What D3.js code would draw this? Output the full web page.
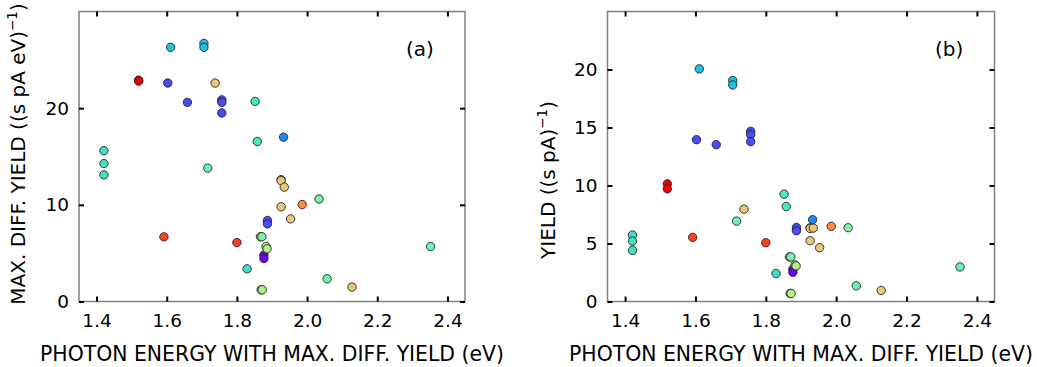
<!DOCTYPE html>
<html><head><meta charset="utf-8">
<script src="https://cdn.jsdelivr.net/npm/d3@7"></script>
<style>body{margin:0;background:#fff}svg{font-family:"DejaVu Sans",sans-serif}</style>
</head><body><svg id="c" width="1037" height="367"></svg>
<script>
// photon energy with max diff yield (eV)
const energy = [1.421,1.421,1.421,1.520,1.520,1.592,1.603,1.611,1.659,1.706,1.706,1.717,1.738,1.757,1.757,1.757,1.800,1.829,1.852,1.858,1.867,1.871,1.869,1.872,1.877,1.877,1.883,1.886,1.887,1.887,1.926,1.926,1.926,1.935,1.953,1.933,1.986,2.034,2.057,2.128,2.352];
// max diff yield ((s pA eV)^-1)
const maxDiffYield = [15.6,14.27,13.1,22.9,22.8,6.69,22.6,26.3,20.6,26.7,26.3,13.8,22.6,20.86,20.6,19.5,6.1,3.38,20.7,16.55,6.7,6.7,1.21,1.21,4.8,4.45,5.69,5.45,8.38,8.03,12.6,12.5,9.8,11.83,8.55,17.0,10.03,10.6,2.35,1.49,5.69];
// yield ((s pA)^-1)
const yieldVals = [5.73,5.21,4.41,10.14,9.71,5.53,13.95,20.05,13.52,19.05,18.67,6.93,7.96,14.67,14.38,13.78,5.07,2.41,9.25,8.19,3.84,3.84,0.69,0.69,2.78,2.52,3.15,3.07,6.39,6.1,6.35,6.3,5.24,6.33,4.64,7.05,6.48,6.36,1.35,0.95,2.98];
const colors = ["#40e0c0","#40e0c0","#40e0c0","#f00000","#f00000","#ff4020","#4a4af8","#20c0e0","#4a4af8","#20c0e0","#20c0e0","#70f0b0","#e8c878","#4a4af8","#4a4af8","#4a4af8","#ff4020","#40e0c0","#48e8c0","#48e8c0","#80f0a8","#80f0a8","#b0f088","#b0f088","#7000f0","#7000f0","#b0f088","#b0f088","#4a4af8","#4a4af8","#e8c878","#e8c878","#e8c878","#e8c878","#e8c878","#1e88f0","#ff8848","#80f0a8","#70f0b0","#e8c878","#70f0b0"];
const xTicks = [1.4,1.6,1.8,2.0,2.2,2.4];
const yTicksA = [0,10,20];
const yTicksB = [0,5,10,15,20];

const svg = d3.select("#c");

function panel(opts){
  const {x0,x1,y0,y1,ymax,yTicks,vals,tag,tagX,labelX,labelY,labelParts} = opts;
  const x = d3.scaleLinear().domain([1.35,2.45]).range([x0,x1]);
  const y = d3.scaleLinear().domain([0,ymax]).range([y1,y0]);
  const g = svg.append("g");
  const idx = d3.range(energy.length);
  g.selectAll("circle").data(idx).join("circle")
    .attr("cx",i=>x(energy[i])).attr("cy",i=>y(vals[i])).attr("r",4.2)
    .attr("fill",i=>colors[i]).attr("stroke","#222").attr("stroke-width",0.9);
  g.append("rect").attr("x",x0).attr("y",y0).attr("width",x1-x0).attr("height",y1-y0)
    .attr("fill","none").attr("stroke","#808080").attr("stroke-width",1.5);
  const ax = (sel,axis)=>{sel.call(axis); sel.select(".domain").remove();
    sel.selectAll(".tick line").attr("stroke","#000").attr("stroke-width",2);};
  const fmtx = d3.format(".1f");
  const bottom = g.append("g").attr("transform",`translate(0,${y1})`);
  ax(bottom,d3.axisBottom(x).tickValues(xTicks).tickSize(-5).tickPadding(10).tickFormat(fmtx));
  const top = g.append("g").attr("transform",`translate(0,${y0})`);
  ax(top,d3.axisTop(x).tickValues(xTicks).tickSize(-5).tickFormat(""));
  const left = g.append("g").attr("transform",`translate(${x0},0)`);
  ax(left,d3.axisLeft(y).tickValues(yTicks).tickSize(-5).tickPadding(10).tickFormat(d3.format("d")));
  const right = g.append("g").attr("transform",`translate(${x1},0)`);
  ax(right,d3.axisRight(y).tickValues(yTicks).tickSize(-5).tickFormat(""));
  g.selectAll(".tick text").attr("font-family","DejaVu Sans").attr("font-size",18.5).attr("fill","#000");
  bottom.selectAll(".tick text").attr("dy","0.85em");
  g.append("text").attr("x",tagX).attr("y",56).attr("font-size",20).text(tag);
  g.append("text").attr("x",(x0+x1)/2).attr("y",361).attr("text-anchor","middle")
    .attr("font-size",20.4).text("PHOTON ENERGY WITH MAX. DIFF. YIELD (eV)");
  const t = g.append("text").attr("transform",`translate(${labelX},${labelY}) rotate(-90)`)
    .attr("text-anchor","middle").attr("font-size",20);
  t.append("tspan").text(labelParts[0]);
  t.append("tspan").attr("dy",-8).attr("font-size",13.5).text("−1");
  t.append("tspan").attr("dy",8).text(")");
}

panel({x0:79,x1:465,y0:11.5,y1:301.5,ymax:30,yTicks:yTicksA,vals:maxDiffYield,tag:"(a)",tagX:406,
  labelX:25,labelY:154,labelParts:["MAX. DIFF. YIELD ((s pA eV)"]});
panel({x0:607.5,x1:994.5,y0:11.5,y1:301.5,ymax:25,yTicks:yTicksB,vals:yieldVals,tag:"(b)",tagX:935,
  labelX:555,labelY:180,labelParts:["YIELD ((s pA)"]});
</script></body></html>
